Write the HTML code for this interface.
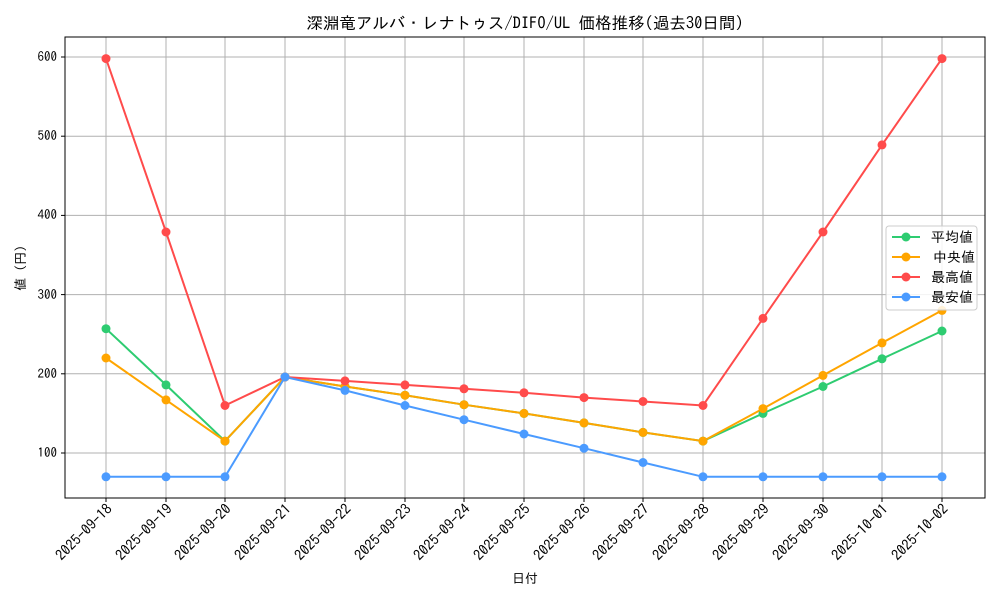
<!DOCTYPE html><html><head><meta charset="utf-8"><style>body{margin:0;background:#fff}svg{display:block;font-family:"IPAGothic","Liberation Sans","Noto Sans CJK JP",sans-serif}</style></head><body>
<svg width="1000" height="600" xmlns="http://www.w3.org/2000/svg">
<rect width="1000" height="600" fill="#fff"/>
<g stroke="#b0b0b0" stroke-width="1">
<line x1="106" y1="37" x2="106" y2="498"/><line x1="166" y1="37" x2="166" y2="498"/><line x1="225" y1="37" x2="225" y2="498"/><line x1="285" y1="37" x2="285" y2="498"/><line x1="345" y1="37" x2="345" y2="498"/><line x1="405" y1="37" x2="405" y2="498"/><line x1="464" y1="37" x2="464" y2="498"/><line x1="524" y1="37" x2="524" y2="498"/><line x1="584" y1="37" x2="584" y2="498"/><line x1="643" y1="37" x2="643" y2="498"/><line x1="703" y1="37" x2="703" y2="498"/><line x1="763" y1="37" x2="763" y2="498"/><line x1="823" y1="37" x2="823" y2="498"/><line x1="882" y1="37" x2="882" y2="498"/><line x1="942" y1="37" x2="942" y2="498"/>
<line x1="65" y1="453" x2="985" y2="453"/><line x1="65" y1="373.8" x2="985" y2="373.8"/><line x1="65" y1="294.6" x2="985" y2="294.6"/><line x1="65" y1="215.4" x2="985" y2="215.4"/><line x1="65" y1="136.2" x2="985" y2="136.2"/><line x1="65" y1="57" x2="985" y2="57"/>
</g>
<g fill="none" stroke-width="2">
<polyline stroke="#2ecc71" points="106,328.7 166,384.9 225,441.1 285,377 345,386.5 405,395.2 464,404.7 524,413.4 584,422.9 643,432.4 703,441.1 763,413.4 823,386.5 882,358.8 942,331"/>
<polyline stroke="#ffa500" points="106,358 166,399.9 225,441.1 285,377 345,386.5 405,395.2 464,404.7 524,413.4 584,422.9 643,432.4 703,441.1 763,408.6 823,375.4 882,342.9 942,310.4"/>
<polyline stroke="#ff4b4b" points="106,58.6 166,232 225,405.5 285,377 345,380.9 405,384.9 464,388.8 524,392.8 584,397.6 643,401.5 703,405.5 763,318.4 823,232 882,144.9 942,58.6"/>
<polyline stroke="#4b9bff" points="106,476.8 166,476.8 225,476.8 285,377 345,390.4 405,405.5 464,419.7 524,434 584,448.2 643,462.5 703,476.8 763,476.8 823,476.8 882,476.8 942,476.8"/>
</g>
<g fill="#2ecc71"><circle cx="106" cy="328.7" r="4.5"/><circle cx="166" cy="384.9" r="4.5"/><circle cx="225" cy="441.1" r="4.5"/><circle cx="285" cy="377" r="4.5"/><circle cx="345" cy="386.5" r="4.5"/><circle cx="405" cy="395.2" r="4.5"/><circle cx="464" cy="404.7" r="4.5"/><circle cx="524" cy="413.4" r="4.5"/><circle cx="584" cy="422.9" r="4.5"/><circle cx="643" cy="432.4" r="4.5"/><circle cx="703" cy="441.1" r="4.5"/><circle cx="763" cy="413.4" r="4.5"/><circle cx="823" cy="386.5" r="4.5"/><circle cx="882" cy="358.8" r="4.5"/><circle cx="942" cy="331" r="4.5"/></g>
<g fill="#ffa500"><circle cx="106" cy="358" r="4.5"/><circle cx="166" cy="399.9" r="4.5"/><circle cx="225" cy="441.1" r="4.5"/><circle cx="285" cy="377" r="4.5"/><circle cx="345" cy="386.5" r="4.5"/><circle cx="405" cy="395.2" r="4.5"/><circle cx="464" cy="404.7" r="4.5"/><circle cx="524" cy="413.4" r="4.5"/><circle cx="584" cy="422.9" r="4.5"/><circle cx="643" cy="432.4" r="4.5"/><circle cx="703" cy="441.1" r="4.5"/><circle cx="763" cy="408.6" r="4.5"/><circle cx="823" cy="375.4" r="4.5"/><circle cx="882" cy="342.9" r="4.5"/><circle cx="942" cy="310.4" r="4.5"/></g>
<g fill="#ff4b4b"><circle cx="106" cy="58.6" r="4.5"/><circle cx="166" cy="232" r="4.5"/><circle cx="225" cy="405.5" r="4.5"/><circle cx="285" cy="377" r="4.5"/><circle cx="345" cy="380.9" r="4.5"/><circle cx="405" cy="384.9" r="4.5"/><circle cx="464" cy="388.8" r="4.5"/><circle cx="524" cy="392.8" r="4.5"/><circle cx="584" cy="397.6" r="4.5"/><circle cx="643" cy="401.5" r="4.5"/><circle cx="703" cy="405.5" r="4.5"/><circle cx="763" cy="318.4" r="4.5"/><circle cx="823" cy="232" r="4.5"/><circle cx="882" cy="144.9" r="4.5"/><circle cx="942" cy="58.6" r="4.5"/></g>
<g fill="#4b9bff"><circle cx="106" cy="476.8" r="4.5"/><circle cx="166" cy="476.8" r="4.5"/><circle cx="225" cy="476.8" r="4.5"/><circle cx="285" cy="377" r="4.5"/><circle cx="345" cy="390.4" r="4.5"/><circle cx="405" cy="405.5" r="4.5"/><circle cx="464" cy="419.7" r="4.5"/><circle cx="524" cy="434" r="4.5"/><circle cx="584" cy="448.2" r="4.5"/><circle cx="643" cy="462.5" r="4.5"/><circle cx="703" cy="476.8" r="4.5"/><circle cx="763" cy="476.8" r="4.5"/><circle cx="823" cy="476.8" r="4.5"/><circle cx="882" cy="476.8" r="4.5"/><circle cx="942" cy="476.8" r="4.5"/></g>
<rect x="65" y="37" width="920" height="461" fill="none" stroke="#000" stroke-width="1"/>
<g stroke="#000"><line x1="61" y1="453" x2="65" y2="453"/><line x1="61" y1="373.8" x2="65" y2="373.8"/><line x1="61" y1="294.6" x2="65" y2="294.6"/><line x1="61" y1="215.4" x2="65" y2="215.4"/><line x1="61" y1="136.2" x2="65" y2="136.2"/><line x1="61" y1="57" x2="65" y2="57"/>
<line x1="106" y1="498" x2="106" y2="502"/><line x1="166" y1="498" x2="166" y2="502"/><line x1="225" y1="498" x2="225" y2="502"/><line x1="285" y1="498" x2="285" y2="502"/><line x1="345" y1="498" x2="345" y2="502"/><line x1="405" y1="498" x2="405" y2="502"/><line x1="464" y1="498" x2="464" y2="502"/><line x1="524" y1="498" x2="524" y2="502"/><line x1="584" y1="498" x2="584" y2="502"/><line x1="643" y1="498" x2="643" y2="502"/><line x1="703" y1="498" x2="703" y2="502"/><line x1="763" y1="498" x2="763" y2="502"/><line x1="823" y1="498" x2="823" y2="502"/><line x1="882" y1="498" x2="882" y2="502"/><line x1="942" y1="498" x2="942" y2="502"/></g>
<g font-size="13" text-anchor="end" fill="#000">
<text x="57" y="457">100</text><text x="57" y="378">200</text><text x="57" y="299">300</text><text x="57" y="219">400</text><text x="57" y="140">500</text><text x="57" y="61">600</text>
</g>
<g font-size="14.5" text-anchor="end" fill="#000">
<text transform="translate(113,510) rotate(-45)">2025-09-18</text><text transform="translate(173,510) rotate(-45)">2025-09-19</text><text transform="translate(232,510) rotate(-45)">2025-09-20</text><text transform="translate(292,510) rotate(-45)">2025-09-21</text><text transform="translate(352,510) rotate(-45)">2025-09-22</text><text transform="translate(412,510) rotate(-45)">2025-09-23</text><text transform="translate(471,510) rotate(-45)">2025-09-24</text><text transform="translate(531,510) rotate(-45)">2025-09-25</text><text transform="translate(591,510) rotate(-45)">2025-09-26</text><text transform="translate(650,510) rotate(-45)">2025-09-27</text><text transform="translate(710,510) rotate(-45)">2025-09-28</text><text transform="translate(770,510) rotate(-45)">2025-09-29</text><text transform="translate(830,510) rotate(-45)">2025-09-30</text><text transform="translate(889,510) rotate(-45)">2025-10-01</text><text transform="translate(949,510) rotate(-45)">2025-10-02</text>
</g>
<text x="525" y="583" font-size="13" text-anchor="middle">日付</text>
<text transform="translate(25,268) rotate(-90)" font-size="13" text-anchor="middle">値 (円)</text>
<text x="525" y="29" font-size="16.5" text-anchor="middle">深淵竜アルバ・レナトゥス/DIFO/UL 価格推移(過去30日間)</text>
<rect x="886" y="226" width="91" height="84" rx="3" fill="#fff" fill-opacity="0.85" stroke="#ccc"/>
<g stroke-width="2"><line x1="892" y1="237" x2="920" y2="237" stroke="#2ecc71"/><line x1="892" y1="257" x2="920" y2="257" stroke="#ffa500"/><line x1="892" y1="277" x2="920" y2="277" stroke="#ff4b4b"/><line x1="892" y1="297" x2="920" y2="297" stroke="#4b9bff"/></g>
<circle cx="906" cy="237" r="4.5" fill="#2ecc71"/><circle cx="906" cy="257" r="4.5" fill="#ffa500"/><circle cx="906" cy="277" r="4.5" fill="#ff4b4b"/><circle cx="906" cy="297" r="4.5" fill="#4b9bff"/>
<g font-size="14"><text x="931" y="242">平均値</text><text x="933" y="262">中央値</text><text x="931" y="282">最高値</text><text x="931" y="302">最安値</text></g>
</svg>
</body></html>
